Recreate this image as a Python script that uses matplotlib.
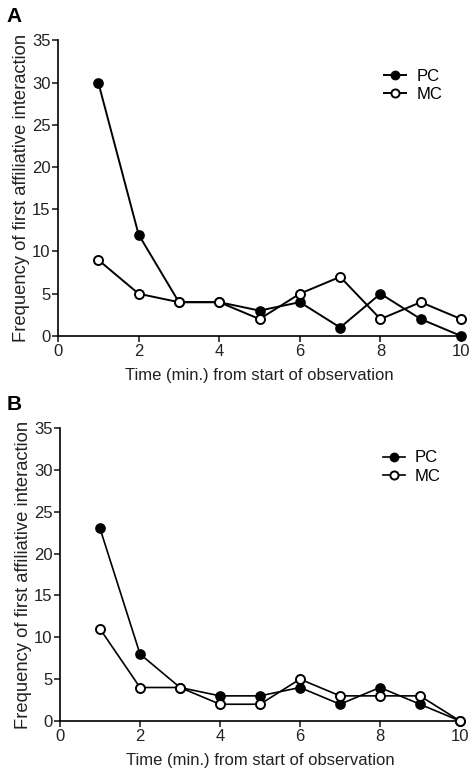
import numpy as np
import matplotlib.pyplot as plt

plt.rcParams['font.family'] = ['Liberation Sans', 'DejaVu Sans']

minutes = [1, 2, 3, 4, 5, 6, 7, 8, 9, 10]

# panel A
pc_a = [30, 12, 4, 4, 3, 4, 1, 5, 2, 0]
mc_a = [9, 5, 4, 4, 2, 5, 7, 2, 4, 2]

# panel B
pc_b = [23, 8, 4, 3, 3, 4, 2, 4, 2, 0]
mc_b = [11, 4, 4, 2, 2, 5, 3, 3, 3, 0]

x_ticks = [0, 2, 4, 6, 8, 10]
y_ticks = [0, 5, 10, 15, 20, 25, 30, 35]

fig = plt.figure(figsize=(4.7, 7.75), dpi=100)

panels = [
    ('A', [0.1234, 0.5665, 0.8576, 0.3815], pc_a, mc_a, 1.4, 0.955),
    ('B', [0.1277, 0.0697, 0.8510, 0.3780], pc_b, mc_b, 1.2, 0.975),
]

for letter, rect, pc, mc, lw, leg_y in panels:
    ax = fig.add_axes(rect)
    ax.plot(minutes, pc, color='black', lw=lw, marker='o', ms=6.5,
            mfc='black', mec='black', mew=1.2, label='PC', clip_on=False, zorder=3)
    ax.plot(minutes, mc, color='black', lw=lw, marker='o', ms=6.5,
            mfc='white', mec='black', mew=1.4, label='MC', clip_on=False, zorder=3)
    ax.set_xlim(0, 10)
    ax.set_ylim(0, 35)
    ax.set_xticks(x_ticks)
    ax.set_yticks(y_ticks)
    ax.spines['top'].set_visible(False)
    ax.spines['right'].set_visible(False)
    ax.spines['left'].set_linewidth(1.2)
    ax.spines['bottom'].set_linewidth(1.2)
    ax.tick_params(direction='out', length=4, width=1.2, labelsize=12, pad=1.5,
                   colors='#222222')
    ax.set_xlabel('Time (min.) from start of observation', fontsize=12, labelpad=7,
                  color='#222222')
    ax.set_ylabel('Frequency of first affiliative interaction', fontsize=13.2,
                  labelpad=1, color='#222222')
    ax.legend(loc='upper right', bbox_to_anchor=(0.99, leg_y), frameon=False,
              fontsize=12, handlelength=1.3, handletextpad=0.6,
              labelspacing=0.2, markerscale=0.9)
    fig.text(0.014, rect[1] + rect[3] + 0.018, letter, fontsize=15, fontweight='bold',
             va='bottom', ha='left')

fig.savefig('out.png', dpi=100)
